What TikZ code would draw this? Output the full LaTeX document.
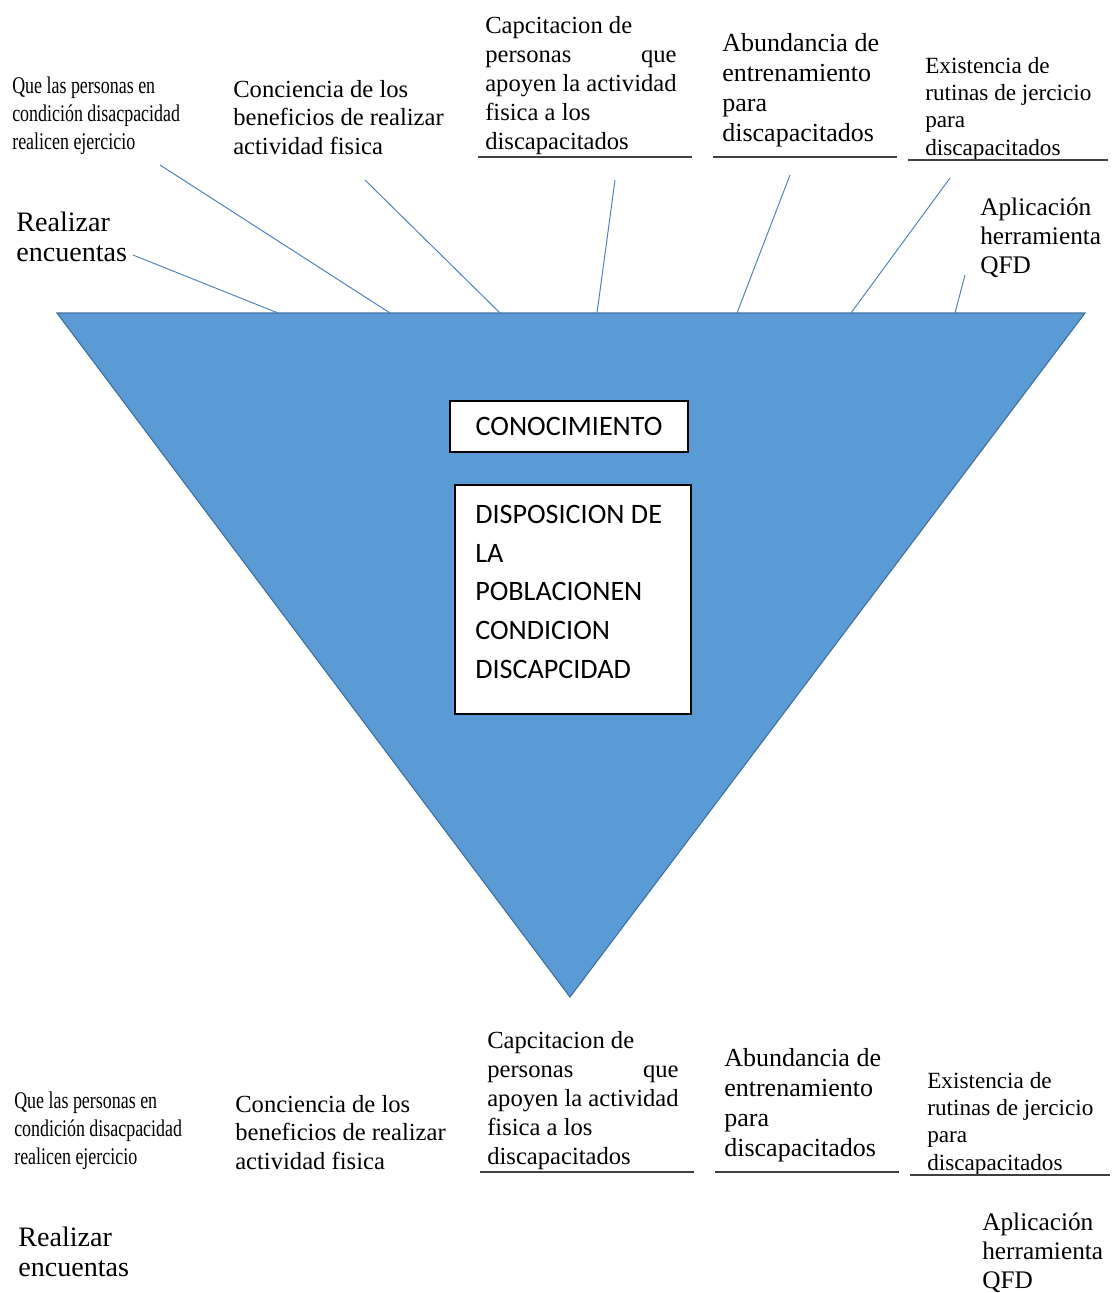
\documentclass[tikz,border=0pt]{standalone}
\usepackage{fontspec}
\usepackage{calc}
\setmainfont{Liberation Serif}
\newfontfamily\narrowfont{Liberation Serif}[FakeStretch=0.75]
\newfontfamily\boxfont{Carlito}
\definecolor{triblue}{RGB}{91,155,213}
\definecolor{triedge}{RGB}{65,113,156}
\definecolor{linkblue}{RGB}{79,129,189}

\begin{document}
\begin{tikzpicture}[x=0.025cm,y=-0.025cm,
    lbl/.style={anchor=north west,inner sep=0pt,align=left},
    link/.style={linkblue,line width=0.7pt},
    uline/.style={black!75,line width=1pt},
    box/.style={draw=black,line width=1pt,fill=white,align=left,
        font=\boxfont\fontsize{20}{27.5}\selectfont}]
    \useasboundingbox (0,0) rectangle (1114,1293);
    % funnel
    \filldraw[fill=triblue,draw=triedge,line width=0.8pt]
        (57,313) coordinate (tl) -- (1085,313) coordinate (tr) -- (570,997) coordinate (tb) -- cycle;
    \node[box,minimum width=5.95cm,minimum height=1.275cm] (conoc) at (569,426.5) {CONOCIMIENTO};
    \node[box,minimum width=5.9cm,minimum height=5.725cm] (dispo) at (573,599.5) {};
    \node[lbl,font=\boxfont\fontsize{20}{27.5}\selectfont] (dispotxt) at (475,505)
        {DISPOSICION DE\\LA\\POBLACIONEN\\CONDICION\\DISCAPCIDAD};
    % labels, upper and lower copy
    \foreach \p/\dx/\dy in {t/0/3,b/2/1018}{
        \begin{scope}[shift={(\dx,\dy)}]
            \node[lbl,font=\narrowfont\fontsize{17}{19.9}\selectfont] (\p-que) at (12,74)
                {Que las personas en\\condición disacpacidad\\realicen ejercicio};
            \node[lbl,font=\fontsize{17.5}{20.3}\selectfont] (\p-conc) at (233,77)
                {Conciencia de los\\beneficios de realizar\\actividad fisica};
            \node[lbl,font=\fontsize{17.5}{20.6}\selectfont] (\p-cap) at (485,13)
                {Capcitacion de\\\makebox[\widthof{apoyen la actividad}][s]{personas\hfill que}\\apoyen la actividad\\fisica a los\\discapacitados};
            \node[lbl,font=\fontsize{18.5}{21.3}\selectfont] (\p-abu) at (722,30)
                {Abundancia de\\entrenamiento\\para\\discapacitados};
            \node[lbl,font=\fontsize{16.5}{19.4}\selectfont] (\p-exi) at (925,54)
                {Existencia de\\rutinas de jercicio\\para\\discapacitados};
            \node[lbl,font=\fontsize{20}{21.3}\selectfont] (\p-rea) at (16,209)
                {Realizar\\encuentas};
            \node[lbl,font=\fontsize{18}{20.6}\selectfont] (\p-apl) at (980,195)
                {Aplicación\\herramienta\\QFD};
            \draw[uline] (478,154) -- (692,154);
            \draw[uline] (713,154) -- (897,154);
            \draw[uline] (908,157) -- (1108,157);
        \end{scope}
    }
    % causes into the funnel
    \coordinate (s1) at (133,255); \coordinate (e1) at (278,313);
    \coordinate (s2) at (160,165); \coordinate (e2) at (390,313);
    \coordinate (s3) at (365,180); \coordinate (e3) at (500,313);
    \coordinate (s4) at (615,180); \coordinate (e4) at (597,313);
    \coordinate (s5) at (790,175); \coordinate (e5) at (737,313);
    \coordinate (s6) at (950,178); \coordinate (e6) at (851,313);
    \coordinate (s7) at (965,275); \coordinate (e7) at (955,313);
    \foreach \i in {1,...,7}{
        \draw[link] (s\i) -- (e\i);
    }
\end{tikzpicture}
\end{document}
